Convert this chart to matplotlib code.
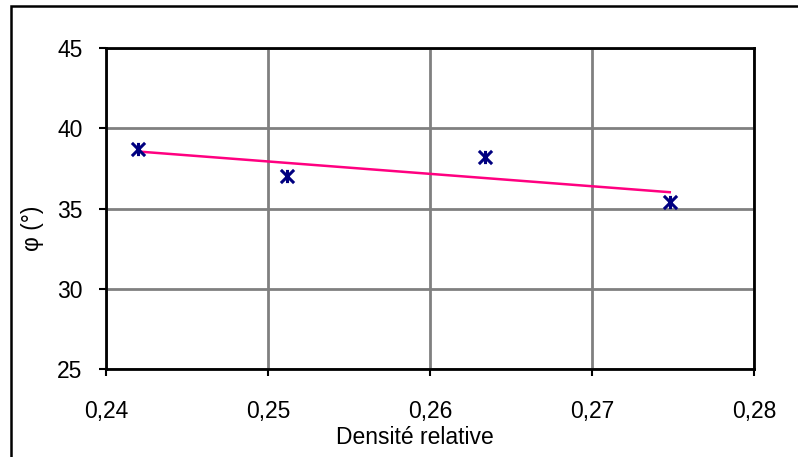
import matplotlib
matplotlib.use("Agg")
import matplotlib.pyplot as plt
import numpy as np
from matplotlib.path import Path
from matplotlib.patches import Rectangle

# data
densite = [0.2420, 0.2512, 0.2634, 0.2748]
phi = [38.7, 37.0, 38.2, 35.4]

x_ticks = [0.24, 0.25, 0.26, 0.27, 0.28]
x_tick_labels = ["0,24", "0,25", "0,26", "0,27", "0,28"]
y_ticks = [25, 30, 35, 40, 45]

plt.rcParams['font.family'] = ['Liberation Sans', 'DejaVu Sans']

fig = plt.figure(figsize=(7.98, 4.57), dpi=100)
ax = fig.add_axes([106/798, 1 - 369/457, (754 - 106)/798, (369 - 48)/457])

# star marker like excel (x with a vertical bar)
star = Path([(0, -1), (0, 1), (-1, -1), (1, 1), (-1, 1), (1, -1)],
            [Path.MOVETO, Path.LINETO, Path.MOVETO, Path.LINETO, Path.MOVETO, Path.LINETO])

# linear trend line
coef = np.polyfit(densite, phi, 1)
xt = np.array([min(densite), max(densite)])
ax.plot(xt, np.polyval(coef, xt), color="#FF0080", lw=1.8, zorder=3)

ax.plot(densite, phi, linestyle="none", marker=star, markersize=9.5,
        markeredgewidth=2.2, color="#000080", zorder=4)

ax.set_xlim(0.24, 0.28)
ax.set_ylim(25, 45)
ax.set_xticks(x_ticks)
ax.set_xticklabels(x_tick_labels)
ax.set_yticks(y_ticks)

ax.grid(True, color="#808080", lw=2, zorder=0)
ax.set_axisbelow(True)
for s in ax.spines.values():
    s.set_color("black")
    s.set_linewidth(2)
    s.set_zorder(2.5)

ax.tick_params(direction="out", length=5, width=1.5, labelsize=16.5,
               colors="black")
ax.tick_params(axis="y", pad=12)
ax.tick_params(axis="x", pad=17)

fig.text(415/798, 1 - 438/457, "Densité relative", fontsize=16.5,
         ha="center", va="center")
fig.text(33/798, 1 - 228/457, "φ (°)", fontsize=16.5, rotation=90,
         ha="center", va="center")

# outer chart frame (partly cut off)
fig.patches.append(Rectangle((11/798, -0.1), 1.2, 1 - 6/457 + 0.1,
                             transform=fig.transFigure, fill=False,
                             edgecolor="black", lw=1.8))

fig.savefig("out.png", dpi=100)
